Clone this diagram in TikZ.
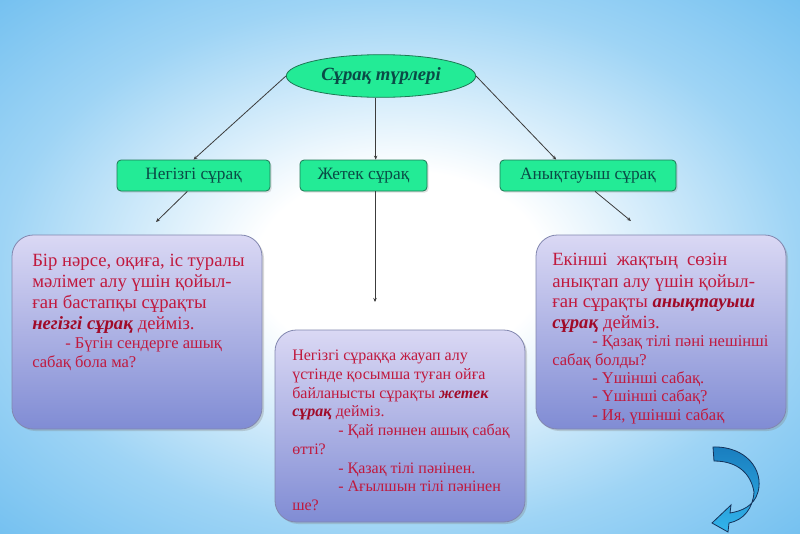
\documentclass[tikz,border=0pt]{standalone}
\usepackage{fontspec}
\setmainfont{Liberation Serif}
\usetikzlibrary{arrows.meta,shadows,calc,shapes.geometric}
\definecolor{bgA}{RGB}{158,212,245}
\definecolor{bgB}{RGB}{115,192,240}
\definecolor{mint}{RGB}{35,235,150}
\definecolor{mintdraw}{RGB}{30,120,85}
\definecolor{teal}{RGB}{10,75,70}
\definecolor{tbtop}{RGB}{218,216,244}
\definecolor{tbbot}{RGB}{128,140,212}
\definecolor{tbdraw}{RGB}{130,135,175}
\definecolor{txtred}{RGB}{192,25,62}
\definecolor{bired}{RGB}{160,10,40}
\definecolor{arrdark}{RGB}{25,125,190}
\definecolor{arrlight}{RGB}{50,180,235}
\definecolor{arrdraw}{RGB}{20,50,90}
\definecolor{linec}{RGB}{60,60,60}
\pgfdeclareradialshading{bgshade}{\pgfpoint{0bp}{0bp}}{color(0bp)=(white); color(9bp)=(white); color(25bp)=(bgA); color(36bp)=(bgB); color(50bp)=(bgB)}
\newcommand{\bi}[1]{\textcolor{bired}{\textbf{\textit{#1}}}}
\tikzset{
  ell/.style={ellipse, draw=mintdraw, line width=0.6pt, fill=mint, minimum width=142pt, minimum height=32pt, inner sep=0pt, text=teal, font=\fontsize{14}{16}\selectfont\bfseries\itshape},
  gbox/.style={rectangle, rounded corners=3pt, draw=mintdraw, line width=0.6pt, fill=mint, minimum height=23.25pt, inner sep=0pt, text=teal, font=\fontsize{13}{15}\selectfont, drop shadow={opacity=0.25, shadow xshift=1.2pt, shadow yshift=-1.2pt}},
  tbox/.style={rectangle, rounded corners=16pt, draw=tbdraw, line width=0.6pt, top color=tbtop, bottom color=tbbot, minimum width=187.5pt, minimum height=145.5pt, inner sep=0pt, drop shadow={opacity=0.3, shadow xshift=1.5pt, shadow yshift=-1.5pt}},
  lnbig/.style={anchor=base west, inner sep=0pt, text=txtred, font=\fontsize{14}{16}\selectfont},
  lnmid/.style={anchor=base west, inner sep=0pt, text=txtred, font=\fontsize{12}{14}\selectfont},
  lnsm/.style={anchor=base west, inner sep=0pt, text=txtred, font=\fontsize{12.4}{14}\selectfont},
  conn/.style={draw=linec, line width=0.6pt, -{Stealth[length=3pt,width=2.6pt]}},
  curarrow/.style={draw=arrdraw, line width=0.6pt, top color=arrdark, bottom color=arrlight}
}
\begin{document}
\begin{tikzpicture}[x=0.75pt,y=-0.75pt]
\useasboundingbox (0,0) rectangle (800,533);
\shade[shading=bgshade] (0,0) rectangle (800,533);

% top ellipse
\node[ell] (ell) at (381,76) {Сұрақ түрлері};

% green boxes
\node[gbox, minimum width=114.75pt] (neg) at (193.5,175.5) {Негізгі сұрақ};
\node[gbox, minimum width=95.25pt] (jet) at (363.5,175.5) {Жетек сұрақ};
\node[gbox, minimum width=132pt] (any) at (588,175.5) {Анықтауыш сұрақ};

% text boxes
\node[tbox] (tl) at (137,332) {};
\node[tbox, minimum height=144pt] (tm) at (400,426) {};
\node[tbox] (tr) at (661,332) {};

% connectors
\draw[conn] (ell.west) -- (neg.north);
\draw[conn] ([xshift=-4pt]ell.south) -- ([xshift=-4pt]ell.south |- jet.north);
\draw[conn] (ell.east) -- ($(any.north west)!0.32!(any.north east)$);
\coordinate (e1) at (156,222);
\coordinate (e2) at (375,302);
\coordinate (e3) at (631,221);
\draw[conn] ($(neg.south west)!0.46!(neg.south east)$) -- (e1);
\draw[conn] (e2 |- jet.south) -- (e2);
\draw[conn] ($(any.south west)!0.54!(any.south east)$) -- (e3);

% left text
\node[lnbig] (l1) at (32,266) {Бір нәрсе, оқиға, іс туралы};
\node[lnbig] (l2) at (32,287) {мәлімет алу үшін қойыл-};
\node[lnbig] (l3) at (32,308) {ған бастапқы сұрақты};
\node[lnbig] (l4) at (32,329) {\bi{негізгі сұрақ} дейміз.};
\node[lnsm] (l5) at (65,348) {- Бүгін сендерге ашық};
\node[lnsm] (l6) at (32,367) {сабақ бола ма?};

% middle text
\node[lnmid] (m1) at (292,360) {Негізгі сұраққа жауап алу};
\node[lnmid] (m2) at (292,379) {үстінде қосымша туған ойға};
\node[lnmid] (m3) at (292,398) {байланысты сұрақты \bi{жетек}};
\node[lnmid] (m4) at (292,416) {\bi{сұрақ} дейміз.};
\node[lnmid] (m5) at (338,435) {- Қай пәннен ашық сабақ};
\node[lnmid] (m6) at (292,454) {өтті?};
\node[lnmid] (m7) at (338,473) {- Қазақ тілі пәнінен.};
\node[lnmid] (m8) at (338,491) {- Ағылшын тілі пәнінен};
\node[lnmid] (m9) at (292,510) {ше?};

% right text
\node[lnbig] (r1) at (552,265) {Екінші\ \ жақтың\ \ сөзін};
\node[lnbig] (r2) at (552,287) {анықтап алу үшін қойыл-};
\node[lnbig] (r3) at (552,307) {ған сұрақты \bi{анықтауыш}};
\node[lnbig] (r4) at (552,328) {\bi{сұрақ} дейміз.};
\node[lnsm] (r5) at (592,346) {- Қазақ тілі пәні нешінші};
\node[lnsm] (r6) at (552,365) {сабақ болды?};
\node[lnsm] (r7) at (592,383) {- Үшінші сабақ.};
\node[lnsm] (r8) at (592,401) {- Үшінші сабақ?};
\node[lnsm] (r9) at (592,420) {- Ия, үшінші сабақ};

% curved block arrow
\path[curarrow] (713,447) .. controls (746,446) and (764,470) .. (758,492)
  .. controls (754,506) and (742,511) .. (730,513) -- (731,505) -- (712,523)
  -- (728,532) -- (729,523) .. controls (744,520) and (753,508) .. (754,492)
  .. controls (751,474) and (738,461) .. (714,461) -- cycle;
\end{tikzpicture}
\end{document}
